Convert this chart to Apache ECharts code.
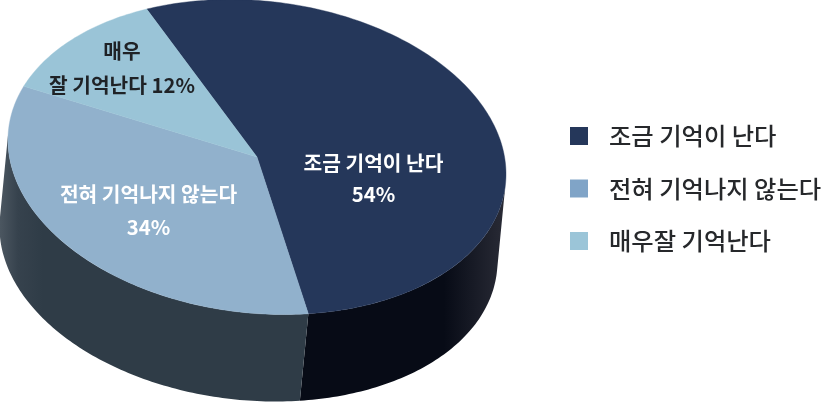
<!DOCTYPE html>
<html><head><meta charset="utf-8">
<style>html,body{margin:0;padding:0;background:#fff}#c{width:821px;height:403px}</style>
<script src="https://cdn.jsdelivr.net/npm/echarts@6/dist/echarts.min.js"></script>
</head><body><div id="c"></div>
<script>
// Data
const categories = ['조금 기억이 난다', '전혀 기억나지 않는다', '매우잘 기억난다'];
const values = [54, 34, 12];
const sliceLabels = ['조금 기억이 난다\n54%', '전혀 기억나지 않는다\n34%', '매우\n잘 기억난다 12%'];

// Styling / layout
const topColors = ['#25375a', '#91b1cc', '#9ac4d7'];
const legendColors = ['#25375a', '#80a4c7', '#9bc5d8'];
const labelColors = ['#ffffff', '#ffffff', '#1f2226'];
const labelAt = [[373.5, 178.5], [148.5, 211], [122, 68.5]];
const labelLine = [31, 33, 34];
const wallFill = [
  {type:'linear',x:0,y:0,x2:1,y2:0,colorStops:[{offset:0,color:'#070b16'},{offset:.7,color:'#070b16'},{offset:.97,color:'#262833'},{offset:1,color:'#2a2c36'}]},
  {type:'linear',x:0,y:0,x2:1,y2:0,colorStops:[{offset:0,color:'#4c5761'},{offset:.06,color:'#36424d'},{offset:.14,color:'#2f3c47'},{offset:1,color:'#2f3c47'}]},
  '#4c5761'
];
const C = {x:257, y:157, rx:249, ry:156.6, shear:17, dx:-8.5, dy:87, start:-26.3};

const total = values.reduce((a, b) => a + b, 0);
const spans = [];
let acc = C.start;
values.forEach(v => { const s = v / total * 360; spans.push([acc, acc + s]); acc += s; });

function pt(deg, ox, oy) {
  const t = deg * Math.PI / 180, u = Math.sin(t), v = -Math.cos(t);
  return [C.x + ox + C.rx * u, C.y + oy + C.shear * u + C.ry * v];
}
function arc(a, b, ox, oy) {
  const out = [], n = Math.max(2, Math.ceil(Math.abs(b - a)));
  for (let i = 0; i <= n; i++) out.push(pt(a + (b - a) * i / n, ox, oy));
  return out;
}
// The side is visible between the two points where the rim's tangent is parallel to the extrusion.
const ratio = C.dx / C.dy;
const tangentRight = Math.atan2(C.rx - C.shear * ratio, ratio * C.ry) * 180 / Math.PI;
const tangentLeft = tangentRight + 180;
function wallRange(a, b) {
  const lo = Math.max(a, tangentRight), hi = Math.min(b, tangentLeft);
  return hi > lo ? [lo, hi] : null;
}
function makeRender(i) {
  return function (params, api) {
    const [a, b] = spans[i];
    const children = [];
    const w = wallRange(a, b);
    if (w) {
      const pts = arc(w[0], w[1], 0, 0).concat(arc(w[1], w[0], C.dx, C.dy));
      children.push({type:'polygon', z2:1, shape:{points:pts}, style:{fill:wallFill[i]}});
    }
    const top = [[C.x, C.y]].concat(arc(a, b, 0, 0));
    children.push({type:'polygon', z2:2, shape:{points:top}, style:{fill:topColors[i], stroke:topColors[i], lineWidth:.4}});
    children.push({type:'text', z2:3, x:labelAt[i][0], y:labelAt[i][1], style:{
      text:sliceLabels[i], fill:labelColors[i], align:'center', verticalAlign:'middle',
      font:'700 20.3px "Noto Sans CJK KR"', lineHeight:labelLine[i]
    }});
    return {type:'group', children};
  };
}
const chart = echarts.init(document.getElementById('c'), null, {renderer:'canvas'});
chart.setOption({
  animation:false,
  legend:{
    orient:'vertical', left:570, top:121, padding:0, itemWidth:18, itemHeight:18, itemGap:22.5, icon:'rect',
    textStyle:{fontFamily:'"Noto Sans CJK KR"', fontSize:24.3, fontWeight:500, color:'#26282b', padding:[0,0,0,16], lineHeight:30},
    data:categories.map((n, i) => ({name:n, itemStyle:{color:legendColors[i]}}))
  },
  series:categories.map((n, i) => ({
    type:'custom', name:n, coordinateSystem:'none', silent:true,
    itemStyle:{color:legendColors[i]},
    renderItem:makeRender(i), data:[{value:[values[i]]}]
  }))
});
</script></body></html>
